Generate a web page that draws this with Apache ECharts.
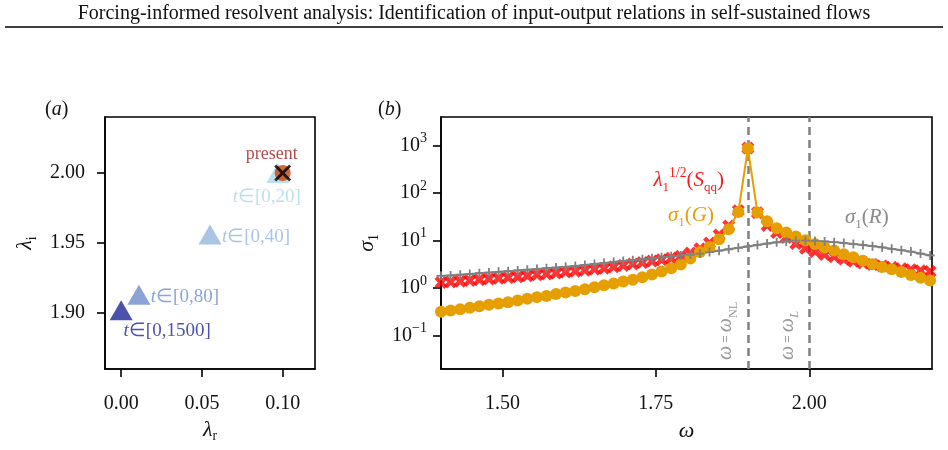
<!DOCTYPE html>
<html>
<head>
<meta charset="utf-8">
<script src="https://cdn.jsdelivr.net/npm/echarts@6/dist/echarts.min.js"></script>
<style>
  html, body { margin: 0; padding: 0; background: #fff; }
  #chart { width: 948px; height: 450px; }
</style>
</head>
<body>
<div id="chart"></div>
<script>
// (a) eigenvalue estimate for growing time windows
const windowLabels = ['[0,1500]', '[0,80]', '[0,40]', '[0,20]'];
const lambdaR = [0.0, 0.011, 0.055, 0.097];
const lambdaI = [1.902, 1.913, 1.956, 2.0];
const presentR = [0.1];
const presentI = [2.0];
const xTicksA = [0, 0.05, 0.1];
const yTicksA = [1.9, 1.95, 2.0];

// (b) gains vs frequency
const omega = [
  1.4, 1.4156, 1.4313, 1.4469, 1.4625, 1.4781, 1.4938, 1.5094, 1.525, 1.5406,
  1.5563, 1.5719, 1.5875, 1.6031, 1.6188, 1.6344, 1.65, 1.6656, 1.6813, 1.6969,
  1.7125, 1.7281, 1.7438, 1.7594, 1.775, 1.7906, 1.8063, 1.8219, 1.8375, 1.8531,
  1.8688, 1.8844, 1.9, 1.9156, 1.9313, 1.9469, 1.9625, 1.9781, 1.9938, 2.0094,
  2.025, 2.0406, 2.0563, 2.0719, 2.0875, 2.1031, 2.1188, 2.1344, 2.15, 2.1656,
  2.1813, 2.1969
];
const sigmaG = [
  0.32, 0.34, 0.36, 0.39, 0.42, 0.45, 0.48, 0.51, 0.55, 0.60,
  0.65, 0.69, 0.76, 0.81, 0.87, 0.95, 1.05, 1.15, 1.26, 1.38,
  1.51, 1.70, 1.95, 2.24, 2.63, 3.16, 4.2, 5.75, 7.4, 10.7,
  17.4, 40, 870, 39, 25.7, 18.2, 14.8, 12.3, 10.2, 8.5,
  7.2, 6.2, 5.2, 4.5, 3.8, 3.2, 2.8, 2.5, 2.2, 1.9,
  1.66, 1.45
];
const lambdaSqq = [
  1.32, 1.36, 1.41, 1.46, 1.51, 1.57, 1.62, 1.68, 1.74, 1.82,
  1.91, 2.0, 2.09, 2.19, 2.29, 2.40, 2.51, 2.63, 2.82, 3.02,
  3.24, 3.47, 3.72, 3.98, 4.27, 4.68, 5.5, 6.76, 8.9, 13.2,
  20.4, 42.7, 890, 38.9, 20.9, 14.8, 11.7, 8.7, 6.9, 5.9,
  5.1, 4.6, 4.1, 3.7, 3.4, 3.16, 2.95, 2.75, 2.57, 2.45,
  2.34, 2.24
];
const sigmaR = [
  1.82, 1.86, 1.93, 2.0, 2.07, 2.14, 2.21, 2.29, 2.37, 2.45,
  2.54, 2.63, 2.72, 2.82, 2.95, 3.09, 3.24, 3.39, 3.55, 3.72,
  3.89, 4.07, 4.27, 4.47, 4.68, 4.9, 5.13, 5.37, 5.75, 6.17,
  6.61, 7.08, 7.59, 8.13, 8.71, 9.23, 9.66, 10.0, 10.0, 9.89,
  9.66, 9.33, 8.91, 8.51, 8.13, 7.67, 7.24, 6.76, 6.31, 5.89,
  5.37, 4.9
];
const omegaRefs = [1.9, 2.0];
const omegaRefLabels = ['{i|ω} = {i|ω}{s|NL}', '{i|ω} = {i|ω}{si|L}'];
const xTicksB = [1.5, 1.75, 2.0];
const yTicksB = [0.1, 1, 10, 100, 1000];

const FONT = 'Liberation Serif';
const windowColors = ['#1f2696', '#6e8dca', '#94b7dc', '#add7e6'];
const labelOffsetsA = [[46, 21], [46, 2], [46, 2], [-11, 24]];

const chart = echarts.init(document.getElementById('chart'));

const tickFont = { fontFamily: FONT, fontSize: 20, color: '#111' };
const frame = { show: true, borderColor: '#000', borderWidth: 1.6 };
const axisLineStyle = { show: true, onZero: false, lineStyle: { color: '#000', width: 1.6 } };
const tickStyle = { show: true, inside: false, length: 8, lineStyle: { color: '#000', width: 1.6 } };

// rich text pieces: italic, normal, subscript, italic subscript, superscript
const mathRich = (color, size) => ({
  i: { fontFamily: FONT, fontStyle: 'italic', fontSize: size, color: color, fill: color, lineHeight: 28 },
  n: { fontFamily: FONT, fontSize: size, color: color, fill: color, lineHeight: 28 },
  s: { fontFamily: FONT, fontSize: size * 0.62, color: color, fill: color, lineHeight: 16, verticalAlign: 'bottom' },
  si: { fontFamily: FONT, fontStyle: 'italic', fontSize: size * 0.65, color: color, fill: color, lineHeight: 16, verticalAlign: 'bottom' },
  p: { fontFamily: FONT, fontSize: size * 0.65, color: color, fill: color, lineHeight: 14, verticalAlign: 'top' }
});

const option = {
  animation: false,
  title: [
    { text: 'Forcing-informed resolvent analysis: Identification of input-output relations in self-sustained flows',
      left: 'center', top: 4, padding: 0,
      textStyle: { fontFamily: FONT, fontSize: 20, fontWeight: 'normal', color: '#111' } },
    { text: '({i|a})', left: 45, top: 96, padding: 0,
      textStyle: { fontFamily: FONT, fontSize: 20, fontWeight: 'normal', color: '#111', rich: mathRich('#111', 20) } },
    { text: '({i|b})', left: 378, top: 96, padding: 0,
      textStyle: { fontFamily: FONT, fontSize: 20, fontWeight: 'normal', color: '#111', rich: mathRich('#111', 20) } }
  ],
  graphic: [
    { type: 'line', shape: { x1: 5, y1: 27, x2: 943, y2: 27 }, style: { stroke: '#000', lineWidth: 1.3 } },
    { type: 'text', x: 724, y: 180, z: 100,
      style: { text: '{i|λ}{s|1}{p|1/2}{n|(}{i|S}{s|qq}{n|)}', align: 'right', verticalAlign: 'middle',
               fill: '#ff1a1a', rich: mathRich('#ff1a1a', 21) } },
    { type: 'text', x: 714, y: 215, z: 100,
      style: { text: '{i|σ}{s|1}{n|(}{i|G}{n|)}', align: 'right', verticalAlign: 'middle',
               fill: '#e69f00', rich: mathRich('#e69f00', 21) } },
    { type: 'text', x: 845, y: 217, z: 100,
      style: { text: '{i|σ}{s|1}{n|(}{i|R}{n|)}', align: 'left', verticalAlign: 'middle',
               fill: '#8a8a8a', rich: mathRich('#8a8a8a', 21) } }
  ],
  grid: [
    Object.assign({ left: 105, top: 117, width: 210, height: 252 }, frame),
    Object.assign({ left: 441, top: 117, width: 491, height: 252 }, frame)
  ],
  xAxis: [
    { type: 'value', gridIndex: 0, min: -0.01, max: 0.12,
      name: '{i|λ}{s|r}', nameLocation: 'middle', nameGap: 46,
      nameTextStyle: { rich: mathRich('#111', 22) },
      axisLine: axisLineStyle, splitLine: { show: false },
      axisTick: Object.assign({ customValues: xTicksA }, tickStyle),
      axisLabel: Object.assign({ customValues: xTicksA, margin: 25, formatter: v => v.toFixed(2) }, tickFont) },
    { type: 'value', gridIndex: 1, min: 1.4, max: 2.2,
      name: '{i|ω}', nameLocation: 'middle', nameGap: 48,
      nameTextStyle: { rich: mathRich('#111', 22) },
      axisLine: axisLineStyle, splitLine: { show: false },
      axisTick: Object.assign({ customValues: xTicksB }, tickStyle),
      axisLabel: Object.assign({ customValues: xTicksB, margin: 25, formatter: v => v.toFixed(2) }, tickFont) }
  ],
  yAxis: [
    { type: 'value', gridIndex: 0, min: 1.86, max: 2.04,
      name: '{i|λ}{s|i}', nameLocation: 'middle', nameGap: 66, nameRotate: 90,
      nameTextStyle: { rich: mathRich('#111', 22) },
      axisLine: axisLineStyle, splitLine: { show: false },
      axisTick: Object.assign({ customValues: yTicksA }, tickStyle),
      axisLabel: Object.assign({ customValues: yTicksA, margin: 20, formatter: v => v.toFixed(2) }, tickFont) },
    { type: 'log', logBase: 10, gridIndex: 1, min: 0.02, max: 4000,
      name: '{i|σ}{s|1}', nameLocation: 'middle', nameGap: 52, nameRotate: 90,
      nameTextStyle: { rich: mathRich('#111', 22) },
      axisLine: axisLineStyle, splitLine: { show: false }, minorTick: { show: false },
      axisTick: Object.assign({ customValues: yTicksB }, tickStyle),
      axisLabel: Object.assign({
        customValues: yTicksB, margin: 14,
        formatter: v => {
          const e = Math.round(Math.log10(v));
          return '{m|10}{e|' + (e < 0 ? '\u2212' + (-e) : e) + '}';
        },
        rich: {
          m: { fontFamily: FONT, fontSize: 20, color: '#111', lineHeight: 28 },
          e: { fontFamily: FONT, fontSize: 14, color: '#111', lineHeight: 18, verticalAlign: 'top' }
        }
      }, tickFont) }
  ],
  series: [
    {
      type: 'scatter', xAxisIndex: 0, yAxisIndex: 0,
      symbol: 'triangle', symbolSize: [23, 20],
      data: lambdaR.map((r, i) => ({
        value: [r, lambdaI[i]],
        itemStyle: { color: windowColors[i] },
        label: {
          show: true, position: 'inside', offset: labelOffsetsA[i],
          formatter: '{i|t}{n|∈' + windowLabels[i] + '}',
          rich: mathRich(windowColors[i], 19)
        }
      }))
    },
    {
      type: 'scatter', xAxisIndex: 0, yAxisIndex: 0,
      symbol: 'circle', symbolSize: 16,
      itemStyle: { color: '#c0450e' },
      data: presentR.map((r, i) => [r, presentI[i]]),
      label: {
        show: true, position: 'inside', offset: [-11, -19], formatter: 'present',
        fontFamily: FONT, fontSize: 18, color: '#9c1a1a'
      }
    },
    {
      type: 'scatter', xAxisIndex: 0, yAxisIndex: 0,
      symbol: 'path://M0,1.2 L1.2,0 L5,3.8 L8.8,0 L10,1.2 L6.2,5 L10,8.8 L8.8,10 L5,6.2 L1.2,10 L0,8.8 L3.8,5 Z',
      symbolSize: 17,
      itemStyle: { color: '#000' },
      data: presentR.map((r, i) => [r, presentI[i]])
    },
    {
      type: 'line', xAxisIndex: 1, yAxisIndex: 1,
      data: omega.map((w, i) => [w, sigmaG[i]]),
      symbol: 'circle', symbolSize: 12,
      itemStyle: { color: '#e69f00' },
      lineStyle: { color: '#e69f00', width: 2 },
      markLine: {
        silent: true, z: 1, symbol: ['none', 'none'],
        lineStyle: { color: '#808080', width: 2.5, type: [8, 5] },
        label: {
          show: true, position: 'insideStartTop', distance: [9, 8],
          color: '#999', rich: mathRich('#999', 20)
        },
        data: omegaRefs.map((w, i) => ({ xAxis: w, label: { formatter: omegaRefLabels[i] } }))
      }
    },
    {
      type: 'scatter', xAxisIndex: 1, yAxisIndex: 1,
      data: omega.map((w, i) => [w, lambdaSqq[i]]),
      symbol: 'path://M0,2.4 L2.4,0 L5,2.6 L7.6,0 L10,2.4 L7.4,5 L10,7.6 L7.6,10 L5,7.4 L2.4,10 L0,7.6 L2.6,5 Z',
      symbolSize: 13,
      itemStyle: { color: '#ff0000' }
    },
    {
      type: 'line', xAxisIndex: 1, yAxisIndex: 1,
      data: omega.map((w, i) => [w, sigmaR[i]]),
      symbol: 'path://M4,0 L6,0 L6,4 L10,4 L10,6 L6,6 L6,10 L4,10 L4,6 L0,6 L0,4 L4,4 Z',
      symbolSize: 9,
      itemStyle: { color: '#808080' },
      lineStyle: { color: '#808080', width: 2 }
    }
  ]
};

chart.setOption(option);
</script>
</body>
</html>
